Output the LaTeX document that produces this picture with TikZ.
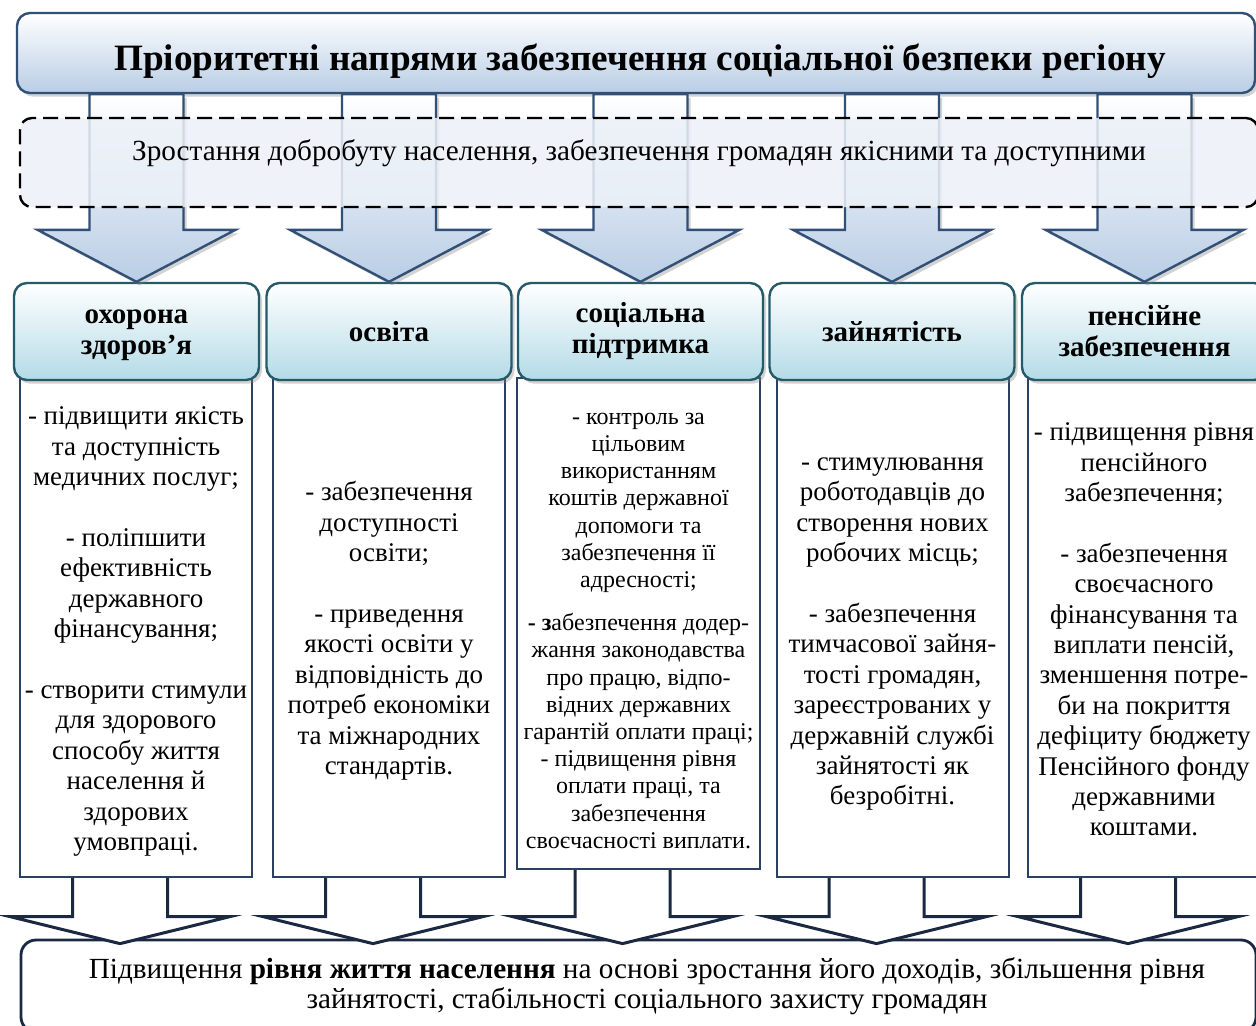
\documentclass[tikz,border=0pt]{standalone}
\usepackage{fontspec}
\setmainfont{Liberation Serif}
\usetikzlibrary{shadows,calc}

\definecolor{titleblue}{RGB}{185,205,229}
\definecolor{titleline}{RGB}{50,80,118}
\definecolor{headblue}{RGB}{180,219,231}
\definecolor{headline}{RGB}{36,90,106}
\definecolor{bodyline}{RGB}{44,64,98}
\definecolor{navy}{RGB}{26,40,66}
\definecolor{dashfill}{RGB}{236,241,248}

\begin{document}
\begin{tikzpicture}[x=0.5pt,y=-0.5pt,
    softshadow/.style={drop shadow={shadow xshift=1.5pt,shadow yshift=-1.8pt,opacity=.35}},
    titlebox/.style={draw=titleline,line width=1.2pt,rounded corners=6.5pt,top color=white,bottom color=titleblue,softshadow,minimum width=619pt,minimum height=40pt,inner sep=0pt},
    dashbox/.style={draw=black,line width=1.2pt,dash pattern=on 7.5pt off 3.5pt,rounded corners=6pt,fill=dashfill,fill opacity=.85,minimum width=619pt,minimum height=44.5pt,inner sep=0pt},
    headbox/.style={draw=headline,line width=1.2pt,rounded corners=6.5pt,top color=white,bottom color=headblue,softshadow,minimum width=122.5pt,minimum height=48.5pt,align=center,inner sep=0pt,font=\fontsize{14.5}{15.5}\selectfont\bfseries},
    bodybox/.style={draw=bodyline,line width=1pt,fill=white,minimum width=116pt,minimum height=249.5pt,align=center,inner sep=0pt,font=\fontsize{13.5}{15.2}\selectfont},
    bluearrow/.style={draw=titleline,line width=1.2pt,line join=miter,top color=white,bottom color=titleblue,softshadow},
    navyarrow/.style={draw=navy,line width=1.5pt,line join=miter,fill=white},
    resultbox/.style={draw=navy,line width=1.4pt,rounded corners=7.5pt,fill=white,minimum width=617.5pt,minimum height=46pt,inner sep=0pt}
]
\useasboundingbox (0,0) rectangle (1256,1025);
\clip (0,0) rectangle (1256,1025);

% title
\node[titlebox] (title) at (636,53) {};
\node[anchor=base,font=\fontsize{18.6}{21}\selectfont\bfseries] (titletext) at (640,70) {Пріоритетні напрями забезпечення соціальної безпеки регіону};

% columns
\node[bodybox] (body1) at (136,627.5) {\rule{0pt}{13pt}- підвищити якість\\ та доступність\\ медичних послуг;\\[15.2pt] - поліпшити\\ ефективність\\ державного\\ фінансування;\\[15.2pt] - створити стимули\\ для здорового\\ способу життя\\ населення й\\ здорових\\ умовпраці.};
\node[bodybox] (body2) at (389,627.5) {\rule{0pt}{13pt}- забезпечення\\ доступності\\ освіти;\\[15.2pt] - приведення\\ якості освіти у\\ відповідність до\\ потреб економіки\\ та міжнародних\\ стандартів.};
\node[bodybox,minimum width=121.5pt,minimum height=245.5pt,font=\fontsize{12}{13.6}\selectfont] (body3) at (638.5,623.5) {\rule{0pt}{13pt}- контроль за\\ цільовим\\ використанням\\ коштів державної\\ допомоги та\\ забезпечення її\\ адресності;\\[8pt] \textbf{- з}абезпечення додер-\\ жання законодавства\\ про працю, відпо-\\ відних державних\\ гарантій оплати праці;\\ - підвищення рівня\\ оплати праці, та\\ забезпечення\\ своєчасності виплати.};
\node[bodybox] (body4) at (892.5,627.5) {\rule{0pt}{13pt}- стимулювання\\ роботодавців до\\ створення нових\\ робочих місць;\\[15.2pt] - забезпечення\\ тимчасової зайня-\\ тості громадян,\\ зареєстрованих у\\ державній службі\\ зайнятості як\\ безробітні.};
\node[bodybox] (body5) at (1144,627.5) {\rule{0pt}{11pt}- підвищення рівня\\ пенсійного\\ забезпечення;\\[15.2pt] - забезпечення\\ своєчасного\\ фінансування та\\ виплати пенсій,\\ зменшення потре-\\ би на покриття\\ дефіциту бюджету\\ Пенсійного фонду\\ державними\\ коштами.};

\node[headbox] (head1) at (136.5,331.5) {\strut охорона\\ здоров’я};
\node[headbox] (head2) at (389,331.5) {освіта};
\node[headbox] (head3) at (640.5,331.5) {соціальна\\ підтримка};
\node[headbox] (head4) at (892,331.5) {зайнятість};
\node[headbox] (head5) at (1144.5,331.5) {пенсійне\\ забезпечення};

% arrows down to the columns
\foreach \i in {1,...,5}{
  \draw[bluearrow] ($(title.south -| head\i.north)+(-47,0)$) -- ($(head\i.north)+(-47,-52)$) -- ($(head\i.north)+(-99,-52)$) -- (head\i.north) -- ($(head\i.north)+(99,-52)$) -- ($(head\i.north)+(47,-52)$) -- ($(title.south -| head\i.north)+(47,0)$) -- cycle;
}

% dashed band
\node[dashbox] (dash) at (639,162.5) {};
\node[anchor=base,font=\fontsize{14.6}{16}\selectfont] (dashtext) at (639,160) {Зростання добробуту населення, забезпечення громадян якісними та доступними};

% result
\node[resultbox] (result) at (638.5,986) {};
\foreach \i in {1,...,5}{
  \coordinate (tip) at ($(result.north -| body\i.south)+(-16,5)$);
  \draw[navyarrow] ($(body\i.south)+(-63.5,0)$) -- ($(tip)+(-47.5,-27)$) -- ($(tip)+(-110,-27)$) -- (tip) -- ($(tip)+(110,-27)$) -- ($(tip)+(47.5,-27)$) -- ($(body\i.south)+(31.5,0)$);
}
\node[align=center,font=\fontsize{14.6}{15}\selectfont] (resulttext) at (647,986) {Підвищення \textbf{рівня життя населення} на основі зростання його доходів, збільшення рівня\\ зайнятості, стабільності соціального захисту громадян};
\end{tikzpicture}
\end{document}
